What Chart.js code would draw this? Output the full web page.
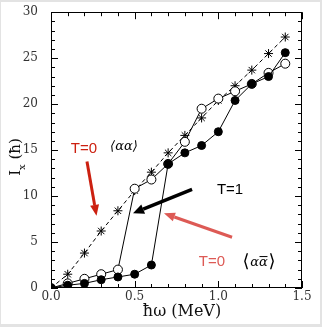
<!DOCTYPE html>
<html><head><meta charset="utf-8">
<script src="https://cdn.jsdelivr.net/npm/chart.js@4"></script>
<style>html,body{margin:0;padding:0;background:#fff;}canvas{display:block;}</style>
</head><body>
<canvas id="c" width="322" height="327"></canvas>
<script>
const omega = [0.0,0.1,0.2,0.3,0.4,0.5,0.6,0.7,0.8,0.9,1.0,1.1,1.2,1.3,1.4];
const starT0 = [0,1.5,3.8,6.2,8.4,10.6,12.6,14.7,16.6,18.5,20.4,22.0,23.7,25.5,27.3];
const openT1 = [0,0.5,1.0,1.5,2.0,10.8,11.8,13.5,15.9,19.5,20.6,21.4,22.2,23.4,24.4];
const filledT0 = [0,0.3,0.5,0.9,1.2,1.5,2.5,13.5,14.7,15.5,17.0,20.4,22.2,23.0,25.6];
const xTickStep = 0.5;
const yTickStep = 5;

const pts = a => omega.map((x,i)=>({x, y:a[i]}));

function arrow(ctx, x1,y1,x2,y2,color,w,hl,hw){
  const a = Math.atan2(y2-y1,x2-x1);
  const bx = x2 - hl*Math.cos(a), by = y2 - hl*Math.sin(a);
  ctx.save();
  ctx.strokeStyle=color; ctx.fillStyle=color; ctx.lineWidth=w; ctx.lineCap='butt';
  ctx.beginPath(); ctx.moveTo(x1,y1); ctx.lineTo(bx,by); ctx.stroke();
  ctx.beginPath(); ctx.moveTo(x2,y2);
  ctx.lineTo(bx + hw/2*Math.sin(a), by - hw/2*Math.cos(a));
  ctx.lineTo(bx - hw/2*Math.sin(a), by + hw/2*Math.cos(a));
  ctx.closePath(); ctx.fill();
  ctx.restore();
}

const deco = {
  id:'deco',
  beforeDraw(chart){
    const ctx = chart.ctx;
    ctx.save();
    ctx.fillStyle='#e3e3e3'; ctx.fillRect(0,0,322,327);
    ctx.fillStyle='#fff'; ctx.fillRect(1,2,319,322);
    ctx.restore();
  },
  afterDatasetsDraw(chart){
    const ctx = chart.ctx, xs = chart.scales.x, ys = chart.scales.y;
    const ca = chart.chartArea;
    const X = v=>xs.getPixelForValue(v), Y = v=>ys.getPixelForValue(v);
    ctx.save();
    ctx.strokeStyle='#000'; ctx.lineWidth=1;
    ctx.strokeRect(Math.round(ca.left)+0.5, Math.round(ca.top)+0.5, Math.round(ca.right-ca.left)-1, Math.round(ca.bottom-ca.top)-1);
    ctx.beginPath();
    for (let i=0;i<=15;i++){
      const v=i/10, px=Math.round(X(v))+0.5, L=(i%5===0)?7:4;
      ctx.moveTo(px,ca.bottom); ctx.lineTo(px,ca.bottom-L);
      ctx.moveTo(px,ca.top); ctx.lineTo(px,ca.top+L);
    }
    for (let i=0;i<=30;i++){
      const py=Math.round(Y(i))+0.5, L=(i%5===0)?7:4;
      ctx.moveTo(ca.left,py); ctx.lineTo(ca.left+L,py);
      ctx.moveTo(ca.right,py); ctx.lineTo(ca.right-L,py);
    }
    ctx.stroke();
    ctx.restore();

    ctx.save();
    ctx.textAlign='center'; ctx.textBaseline='middle';
    ctx.font='15px "Liberation Sans"';
    ctx.fillStyle='#cc2010';
    ctx.fillText('T=0', X(0.197), Y(15.1));
    ctx.fillStyle='#000';
    ctx.fillText('T=1', X(1.07), Y(10.72));
    ctx.fillStyle='#dd5a55';
    ctx.fillText('T=0', X(0.962), Y(2.82));
    ctx.fillStyle='#000';
    ctx.font='italic 13px "DejaVu Serif"';
    ctx.fillText('\u27E8\u03B1\u03B1\u27E9', X(0.436), Y(15.4));
    const cx = X(1.243), cy = Y(2.82);
    ctx.font='18px "DejaVu Sans"';
    ctx.fillText('\u27E8', cx-13, cy);
    ctx.fillText('\u27E9', cx+13, cy);
    ctx.font='italic 13px "DejaVu Serif"';
    ctx.fillText('\u03B1\u03B1', cx, cy+1);
    ctx.strokeStyle='#000'; ctx.lineWidth=1;
    ctx.beginPath(); ctx.moveTo(cx+0.5, cy-5.5); ctx.lineTo(cx+8.5, cy-5.5); ctx.stroke();
    ctx.restore();

    arrow(ctx, X(0.215),Y(13.75), X(0.272),Y(7.85), '#cc2010', 3, 11, 9);
    arrow(ctx, X(0.843),Y(10.72), X(0.49),Y(8.12), '#000', 3.5, 11, 10);
    arrow(ctx, X(1.082),Y(5.52), X(0.675),Y(8.12), '#dd5a55', 3, 11, 9);
  },
  afterDraw(chart){
    const ctx = chart.ctx, xs = chart.scales.x, ca = chart.chartArea;
    ctx.save();
    ctx.fillStyle='#333';
    ctx.font='12px "DejaVu Serif"';
    ctx.textAlign='center'; ctx.textBaseline='middle';
    xs.ticks.forEach(t => ctx.fillText(Number(t.value).toFixed(1), xs.getPixelForValue(t.value), ca.bottom + 9));
    ctx.fillStyle='#111';
    ctx.font='16px "DejaVu Serif"';
    ctx.fillText('\u0127\u03C9 (MeV)', 182, 312);
    ctx.translate(16,157); ctx.rotate(-Math.PI/2);
    ctx.textAlign='left';
    const f1='15px "DejaVu Serif"', f2='10px "DejaVu Serif"';
    ctx.font=f1; const wI=ctx.measureText('I').width; const wP=ctx.measureText(' (\u0127)').width;
    ctx.font=f2; const wx=ctx.measureText('x').width;
    let sx = -(wI+wx+wP)/2;
    ctx.font=f1; ctx.fillText('I', sx, 0); sx+=wI;
    ctx.font=f2; ctx.fillText('x', sx, 6); sx+=wx;
    ctx.font=f1; ctx.fillText(' (\u0127)', sx, 0);
    ctx.restore();
  }
};

new Chart(document.getElementById('c'), {
  type:'scatter',
  data:{ datasets:[
    { label:'T=0 filled', data:pts(filledT0), showLine:true, borderColor:'#000', borderWidth:1,
      pointStyle:'circle', pointRadius:4, pointBackgroundColor:'#000', pointBorderColor:'#000', pointBorderWidth:1, order:0 },
    { label:'T=1 open', data:pts(openT1), showLine:true, borderColor:'#000', borderWidth:1,
      pointStyle:'circle', pointRadius:4.5, pointBackgroundColor:'#fff', pointBorderColor:'#000', pointBorderWidth:1, order:1 },
    { label:'T=0 star', data:pts(starT0), showLine:true, borderColor:'#000', borderWidth:1, borderDash:[4,3],
      pointStyle:'star', pointRadius:4.5, pointBackgroundColor:'#000', pointBorderColor:'#000', pointBorderWidth:1, order:2 }
  ]},
  options:{
    responsive:false, animation:false, devicePixelRatio:1,
    layout:{padding:{left:0,right:20,top:10,bottom:0}},
    plugins:{legend:{display:false}, tooltip:{enabled:false}},
    scales:{
      x:{ type:'linear', min:0, max:1.5,
          afterFit(s){ s.height=39; },
          grid:{display:false}, border:{display:false},
          ticks:{ stepSize:xTickStep, padding:2, color:'rgba(0,0,0,0)', autoSkip:false, font:{family:'DejaVu Serif', size:12}, maxRotation:0, minRotation:0,
                  callback:v=>Number(v).toFixed(1) } },
      y:{ type:'linear', min:0, max:30,
          afterFit(s){ s.width=51; },
          grid:{display:false}, border:{display:false},
          ticks:{ stepSize:yTickStep, padding:5, color:'#333', font:{family:'DejaVu Serif', size:12} } }
    }
  },
  plugins:[deco]
});
</script>
</body></html>
